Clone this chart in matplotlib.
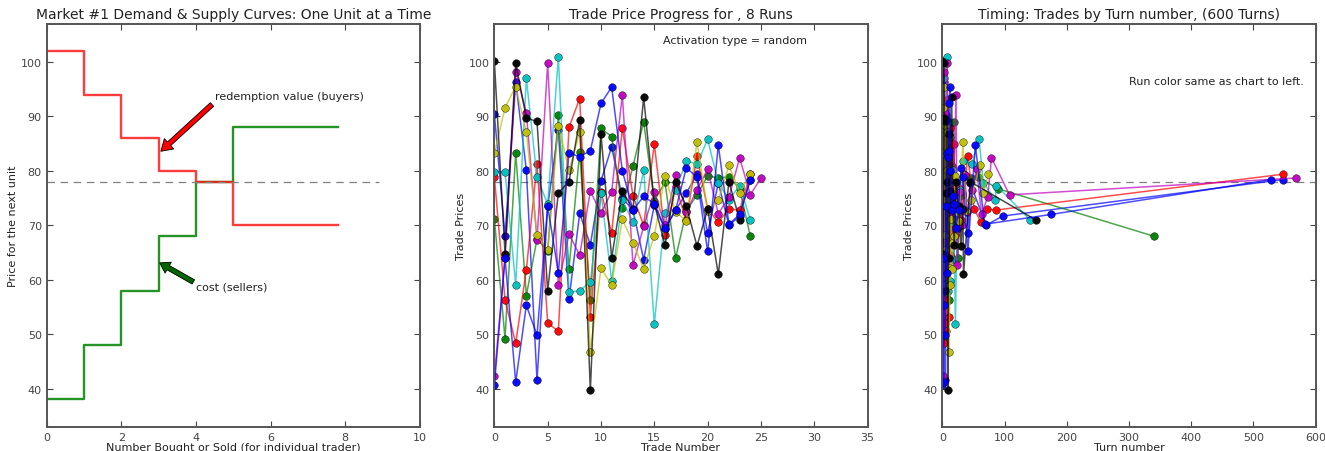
import matplotlib
matplotlib.use("Agg")
import matplotlib.pyplot as plt

# market #1 schedule, one unit at a time
units = [0, 1, 2, 3, 4, 5, 7.8]
redemption = [102, 94, 86, 80, 78, 70, 70]
cost = [38, 48, 58, 68, 78, 88, 88]
equilibrium = 78

# trade prices of the 8 runs (colour cycle b g r c m y k b)
run_colors = ["b", "g", "r", "c", "m", "y", "k", "b"]
run_prices = [
    [90.5, 68, 96.4, 80.2, 41.5, 73.5, 87.5, 56.4, 72.2, 66.4, 78.2, 84.4, 75,
     72.8, 63.7, 73.7, 69.3, 72.8, 75.9, 79.4, 68.5, 77.8, 70, 71.7, 78.4],
    [71.2, 49.2, 83.3, 57.1, 67.5, 65.3, 90.2, 62, 83.5, 56.2, 87.8, 86.3, 73.1,
     80.9, 89, 74.5, 77.9, 64, 72.6, 75.6, 79.1, 78.7, 78.9, 76.7, 68],
    [78.9, 56.3, 48.3, 61.8, 81.3, 52.1, 50.5, 88, 93.3, 53.1, 76.2, 68.6, 87.8,
     75.4, 70, 84.9, 68.3, 77, 71, 82.7, 73, 70.6, 73, 72.8, 79.4],
    [79.8, 79.8, 59.1, 97, 78.8, 73.9, 101, 57.7, 58, 59.6, 76, 59.8, 74.6,
     70.6, 80.1, 51.8, 72.2, 76.5, 81.9, 81.2, 85.8, 77.8, 74.7, 77.3, 71],
    [42.3, 64, 98.2, 90.7, 67.3, 99.8, 59.1, 68.4, 64.5, 76.3, 72.2, 76.2, 94,
     62.7, 69.8, 76.1, 70, 79.3, 72.5, 76.5, 80.3, 72.1, 75.2, 82.4, 75.6, 78.7],
    [83.3, 91.6, 95.5, 87.1, 68.3, 65.5, 88.3, 80.1, 87.1, 46.8, 62.1, 59.1, 71.1,
     66.8, 62, 68.1, 79.1, 72.5, 70.8, 85.3, 72.7, 74.6, 81, 76, 79.5],
    [100.2, 64.8, 99.8, 89.7, 89.1, 57.9, 76, 78, 89.4, 39.7, 86.7, 64, 76.3,
     73, 93.5, 74, 66.3, 77.9, 73.5, 66.2, 73, 61, 78, 71],
    [40.6, 64, 41.2, 55.3, 49.8, 73.5, 61.3, 83.3, 82.6, 83.7, 92.4, 95.4, 80,
     72.8, 75.3, 74, 69.5, 72.8, 80.6, 78.8, 65.2, 84.7, 70.2, 72, 78.4],
]
# turn at which each trade happened
run_turns = [
    [1, 2, 3, 4, 5, 6, 7, 8, 9, 10, 11, 12, 14, 16, 18, 20, 23, 27, 31, 35, 42, 45, 70, 97, 547],
    [0, 1, 2, 3, 4, 5, 6, 7, 9, 10, 12, 13, 14, 16, 18, 20, 22, 25, 28, 32, 38, 46, 57, 90, 340],
    [0, 1, 2, 3, 4, 5, 6, 8, 9, 10, 11, 12, 13, 15, 16, 18, 21, 25, 30, 41, 51, 62, 72, 86, 548],
    [0, 1, 2, 3, 4, 5, 7, 8, 9, 10, 11, 12, 13, 14, 17, 21, 24, 28, 33, 47, 59, 66, 85, 87, 141],
    [1, 2, 3, 5, 6, 8, 10, 12, 13, 14, 16, 18, 22, 24, 26, 29, 32, 36, 40, 47, 55, 63, 73, 79, 108, 568],
    [0, 1, 2, 3, 4, 5, 6, 7, 8, 11, 12, 13, 14, 15, 16, 18, 20, 23, 27, 33, 38, 46, 60, 66, 74],
    [0, 1, 2, 3, 4, 5, 6, 7, 8, 9, 10, 11, 12, 13, 15, 17, 19, 22, 26, 30, 33, 34, 45, 150],
    [0, 1, 2, 3, 4, 6, 7, 8, 9, 10, 11, 12, 13, 15, 17, 19, 22, 26, 30, 33, 41, 53, 68, 175, 528],
]

plt.rcParams["xtick.direction"] = "in"
plt.rcParams["ytick.direction"] = "in"
plt.rcParams["xtick.top"] = True
plt.rcParams["ytick.right"] = True
plt.rcParams["xtick.major.size"] = 4
plt.rcParams["ytick.major.size"] = 4
plt.rcParams["xtick.labelsize"] = 8
plt.rcParams["ytick.labelsize"] = 8
plt.rcParams["xtick.color"] = "#444444"
plt.rcParams["ytick.color"] = "#444444"
plt.rcParams["axes.edgecolor"] = "#555555"
plt.rcParams["axes.linewidth"] = 1.4
plt.rcParams["text.color"] = "#222222"
plt.rcParams["axes.labelcolor"] = "#222222"

fig = plt.figure(figsize=(13.25, 4.52), dpi=100)
ax1 = fig.add_axes([0.0352, 0.0538, 0.2817, 0.891])
ax2 = fig.add_axes([0.3731, 0.0538, 0.2817, 0.891])
ax3 = fig.add_axes([0.7112, 0.0538, 0.2817, 0.891])

dash = (6, 4.5)

# demand & supply
ax1.step(units, cost, where="post", color=(0.0, 0.5, 0.0), lw=1.7, alpha=0.85)
ax1.step(units, redemption, where="post", color=(1.0, 0.1, 0.1), lw=1.7, alpha=0.85)
ax1.plot([0, 8.9], [equilibrium, equilibrium], "--", color="gray", lw=0.9, dashes=dash)
ax1.annotate("", xy=(3.06, 83.6), xytext=(4.43, 92.2),
             arrowprops=dict(facecolor="red", edgecolor="black", lw=0.6,
                             width=3.5, headwidth=10, headlength=8, shrink=0))
ax1.text(4.51, 93.7, "redemption value (buyers)", fontsize=8, va="center")
ax1.annotate("", xy=(3.03, 63.1), xytext=(3.93, 59.6),
             arrowprops=dict(facecolor=(0.0, 0.4, 0.0), edgecolor="black", lw=0.6,
                             width=3.5, headwidth=9, headlength=7, shrink=0))
ax1.text(4.0, 58.7, "cost (sellers)", fontsize=8, va="center")
ax1.set_xlim(0, 10)
ax1.set_ylim(33, 107)
ax1.set_xticks(range(0, 11, 2))
ax1.set_yticks(range(40, 101, 10))
ax1.set_title("Market #1 Demand & Supply Curves: One Unit at a Time", fontsize=10, pad=4)
ax1.set_xlabel("Number Bought or Sold (for individual trader)", fontsize=8, labelpad=0)
ax1.set_ylabel("Price for the next unit", fontsize=8, labelpad=2)

# trade price progress and timing: faded lines, solid markers
for col, prices, turns in zip(run_colors, run_prices, run_turns):
    trades = range(len(prices))
    for ax, xs in ((ax2, trades), (ax3, turns)):
        ax.plot(xs, prices, "-", color=col, lw=1.1, alpha=0.7)
        ax.plot(xs, prices, "o", color=col, ms=5.5, mec="k", mew=0.3, alpha=0.95)

ax2.plot([0, 30], [equilibrium, equilibrium], "--", color="gray", lw=0.9, dashes=dash, zorder=0)
ax2.text(15.8, 104, "Activation type = random", fontsize=8, va="center")
ax2.set_xlim(0, 35)
ax2.set_ylim(33, 107)
ax2.set_yticks(range(40, 101, 10))
ax2.set_title("Trade Price Progress for , 8 Runs", fontsize=10, pad=4)
ax2.set_xlabel("Trade Number", fontsize=8, labelpad=0)
ax2.set_ylabel("Trade Prices", fontsize=8, labelpad=2)

ax3.plot([0, 600], [equilibrium, equilibrium], "--", color="gray", lw=0.9, dashes=dash, zorder=0)
ax3.text(300, 96.6, "Run color same as chart to left.", fontsize=8, va="center")
ax3.set_xlim(0, 600)
ax3.set_ylim(33, 107)
ax3.set_yticks(range(40, 101, 10))
ax3.set_title("Timing: Trades by Turn number, (600 Turns)", fontsize=10, pad=4)
ax3.set_xlabel("Turn number", fontsize=8, labelpad=0)
ax3.set_ylabel("Trade Prices", fontsize=8, labelpad=2)

plt.savefig("out.png", dpi=100)
